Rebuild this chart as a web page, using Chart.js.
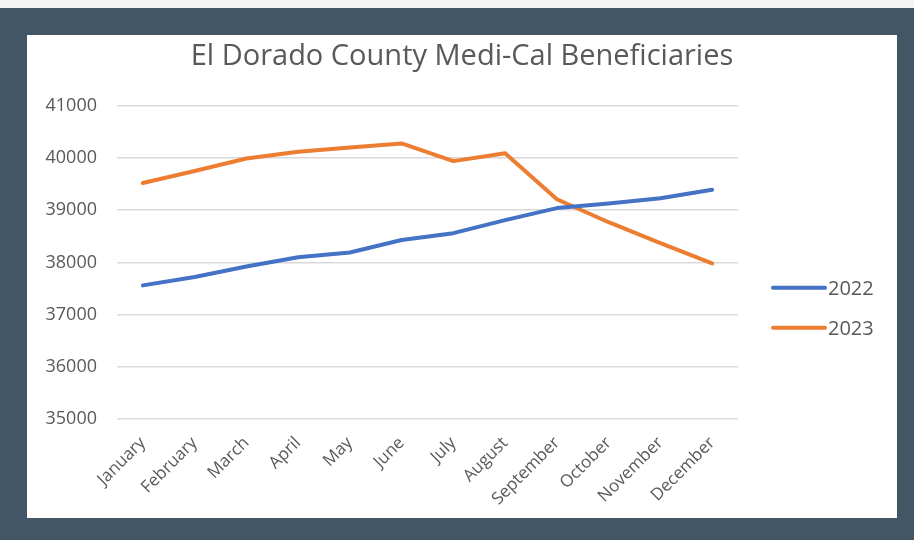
<!DOCTYPE html>
<html>
<head>
<meta charset="utf-8">
<script src="https://cdn.jsdelivr.net/npm/chart.js@4"></script>
<style>
  html, body { margin: 0; padding: 0; }
  body { width: 914px; height: 540px; background: #f4f4f4; position: relative; overflow: hidden; }
  #frame { position: absolute; left: 0; top: 8px; width: 914px; height: 532px; background: #435665; }
  #panel { position: absolute; left: 27px; top: 35px; width: 870px; height: 483px; background: #ffffff; }
  canvas { display: block; }
</style>
</head>
<body>
<div id="frame"></div>
<div id="panel"><canvas id="c" width="870" height="483"></canvas></div>
<script>
const months = ["January","February","March","April","May","June","July","August","September","October","November","December"];
const values2022 = [37560, 37720, 37920, 38100, 38190, 38430, 38560, 38810, 39040, 39130, 39230, 39390];
const values2023 = [39520, 39750, 39990, 40120, 40200, 40280, 39940, 40090, 39210, 38770, 38370, 37980];
const seriesNames = ["2022", "2023"];
const yTicks = [35000, 36000, 37000, 38000, 39000, 40000, 41000];
const titleText = "El Dorado County Medi-Cal Beneficiaries";

const FONT = "'Open Sans', 'Liberation Sans', sans-serif";
const TXT = "#595959";

// Legend drawn on the right, using the datasets' own labels and colours
const sideLegend = {
  id: "sideLegend",
  afterDraw(chart) {
    const ctx = chart.ctx;
    const area = chart.chartArea;
    const x0 = area.right + 35;
    const lineLen = 52;
    const rowGap = 40;
    const yStart = area.top + 182;
    ctx.save();
    ctx.font = "20px " + FONT;
    ctx.textBaseline = "middle";
    ctx.textAlign = "left";
    chart.data.datasets.forEach((d, i) => {
      const y = yStart + i * rowGap;
      ctx.strokeStyle = d.borderColor;
      ctx.lineWidth = 4;
      ctx.lineCap = "round";
      ctx.beginPath();
      ctx.moveTo(x0, y);
      ctx.lineTo(x0 + lineLen, y);
      ctx.stroke();
      ctx.fillStyle = TXT;
      ctx.fillText(d.label, x0 + lineLen + 3, y + 1);
    });
    ctx.restore();
  }
};

new Chart(document.getElementById("c"), {
  type: "line",
  data: {
    labels: months,
    datasets: [
      { label: seriesNames[0], data: values2022, borderColor: "#4472C4", backgroundColor: "#4472C4",
        borderWidth: 4, pointRadius: 0, tension: 0, borderCapStyle: "round", borderJoinStyle: "round" },
      { label: seriesNames[1], data: values2023, borderColor: "#ED7D31", backgroundColor: "#ED7D31",
        borderWidth: 4, pointRadius: 0, tension: 0, borderCapStyle: "round", borderJoinStyle: "round" }
    ]
  },
  options: {
    responsive: false,
    animation: false,
    devicePixelRatio: 1,
    layout: { padding: 0 },
    plugins: {
      title: {
        display: true, text: titleText, color: TXT,
        font: { family: FONT, size: 29, weight: "normal" },
        padding: { top: 4, bottom: 32 }
      },
      legend: { display: false },
      tooltip: { enabled: false }
    },
    scales: {
      x: {
        offset: true,
        grid: { display: false, drawTicks: false },
        border: { display: false },
        ticks: { color: TXT, font: { family: FONT, size: 17 }, minRotation: 45, maxRotation: 45, padding: 14, autoSkip: false },
        afterFit: (s) => { s.height = 99; }
      },
      y: {
        min: yTicks[0], max: yTicks[yTicks.length - 1],
        afterBuildTicks: (s) => { s.ticks = yTicks.map(v => ({ value: v })); },
        grid: { color: "#d9d9d9", lineWidth: 1.5, drawTicks: false },
        border: { display: false },
        ticks: { color: TXT, font: { family: FONT, size: 18 }, padding: 20, callback: (v) => String(v) },
        afterFit: (s) => { s.width = 90; }
      },
      legendSpace: {
        type: "linear", position: "right", display: true,
        grid: { display: false, drawTicks: false },
        border: { display: false },
        ticks: { display: false },
        afterFit: (s) => { s.width = 159; }
      }
    }
  },
  plugins: [sideLegend]
});
</script>
</body>
</html>
